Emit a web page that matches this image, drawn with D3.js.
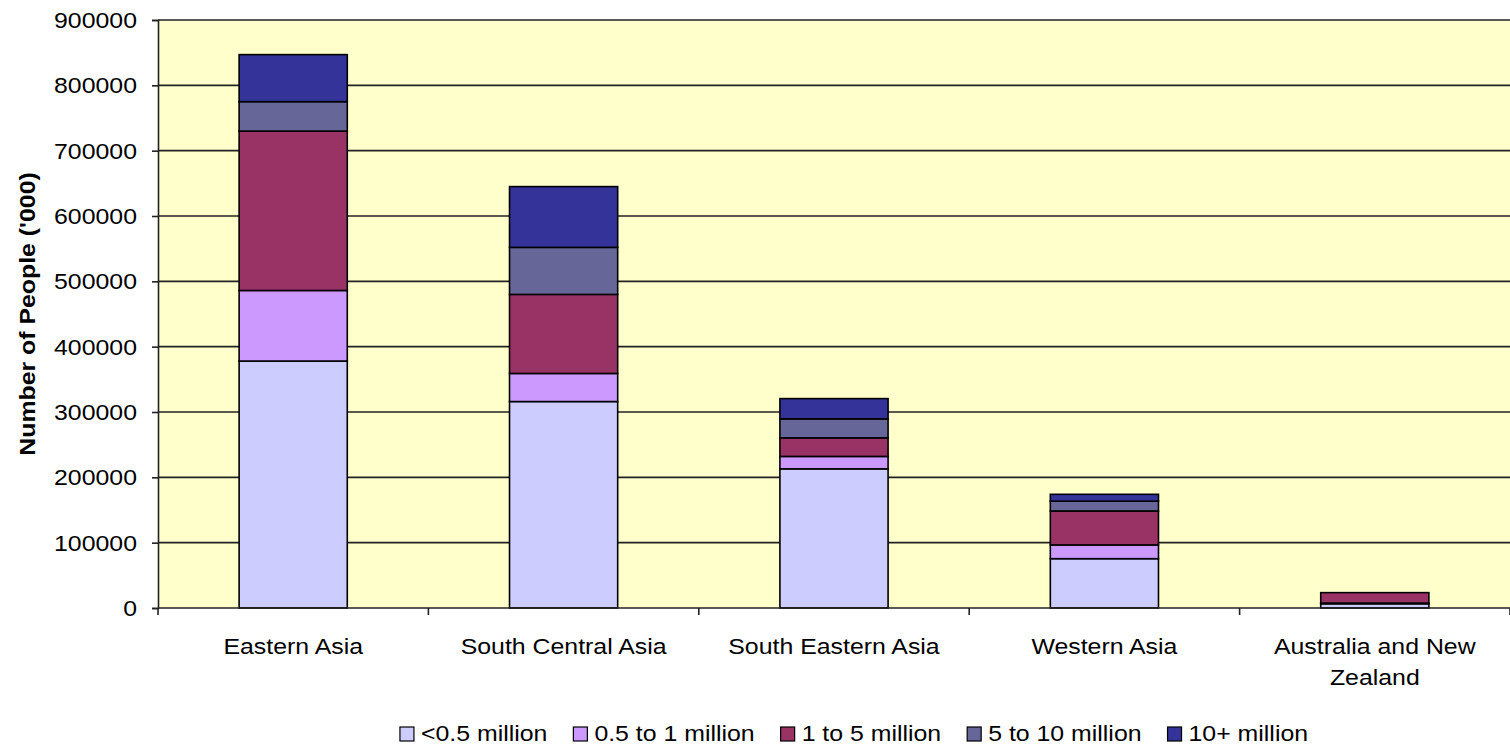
<!DOCTYPE html>
<html>
<head>
<meta charset="utf-8">
<script src="https://cdn.jsdelivr.net/npm/d3@7"></script>
<style>
  html, body { margin: 0; padding: 0; background: #ffffff; }
  svg { display: block; font-family: "Liberation Sans", Arial, sans-serif; }
</style>
</head>
<body>
<svg id="chart" width="1510" height="745"></svg>
<script>
// Population living in settlements of each size class, by region ('000 people)
const regions = ["Eastern Asia", "South Central Asia", "South Eastern Asia", "Western Asia", "Australia and New Zealand"];
const seriesNames = ["<0.5 million", "0.5 to 1 million", "1 to 5 million", "5 to 10 million", "10+ million"];
const under05 = [378000, 316000, 213000, 75500, 6500];
const from05to1 = [108000, 43000, 19000, 21000, 1000];
const from1to5 = [244000, 121000, 28500, 52000, 16000];
const from5to10 = [45000, 72000, 29000, 15000, 0];
const over10 = [72000, 93000, 31000, 10500, 0];
const seriesColors = ["#CCCCFF", "#CC99FF", "#993366", "#666699", "#333399"];
const yTicks = [0, 100000, 200000, 300000, 400000, 500000, 600000, 700000, 800000, 900000];
const yTitle = "Number of People ('000)";

const seriesValues = [under05, from05to1, from1to5, from5to10, over10];
const rows = regions.map((r, i) => {
  const row = { region: r };
  seriesNames.forEach((s, j) => { row[s] = seriesValues[j][i]; });
  return row;
});

const svg = d3.select("#chart");
const plot = { left: 158, right: 1510, top: 20, bottom: 608 };
const FS = 22;       // font size
const SX = 1.13;     // horizontal stretch of the text glyphs

// places a text at (x, y), widened horizontally about its anchor
function placeText(sel, x, y) {
  sel.attr("x", 0).attr("y", 0)
    .attr("transform", `translate(${x},${y}) scale(${SX},1)`);
}

const x = d3.scaleBand()
  .domain(regions)
  .range([plot.left, plot.right])
  .paddingInner(0.6)
  .paddingOuter(0.3);

const y = d3.scaleLinear()
  .domain([0, 900000])
  .range([plot.bottom, plot.top]);

// plot background
svg.append("rect")
  .attr("x", plot.left).attr("y", plot.top)
  .attr("width", plot.right - plot.left).attr("height", plot.bottom - plot.top)
  .attr("fill", "#FFFFCC");

// horizontal gridlines
svg.append("g")
  .selectAll("line")
  .data(yTicks.filter(d => d > 0))
  .join("line")
  .attr("x1", plot.left).attr("x2", plot.right)
  .attr("y1", d => y(d)).attr("y2", d => y(d))
  .attr("stroke", "#222").attr("stroke-width", 1.6);

// stacked bars
const stack = d3.stack().keys(seriesNames);
const layers = stack(rows);
svg.append("g")
  .selectAll("g")
  .data(layers)
  .join("g")
  .attr("fill", (d, i) => seriesColors[i])
  .selectAll("rect")
  .data(d => d.filter(p => p[1] - p[0] > 0))
  .join("rect")
  .attr("x", d => x(d.data.region))
  .attr("width", x.bandwidth())
  .attr("y", d => y(d[1]))
  .attr("height", d => y(d[0]) - y(d[1]))
  .attr("stroke", "#000")
  .attr("stroke-width", 1.6);

// y axis
const yAxis = svg.append("g")
  .attr("transform", `translate(${plot.left},0)`)
  .call(d3.axisLeft(y).tickValues(yTicks).tickFormat(d3.format("d")).tickSize(6).tickPadding(14));
yAxis.select(".domain").attr("stroke", "#222").attr("stroke-width", 1.6);
yAxis.selectAll(".tick line").attr("stroke", "#222").attr("stroke-width", 1.6);
yAxis.selectAll(".tick text")
  .attr("font-size", FS)
  .attr("font-family", "Liberation Sans, Arial, sans-serif")
  .attr("fill", "#000")
  .attr("dy", null)
  .attr("dominant-baseline", "central")
  .each(function () { placeText(d3.select(this), -21, 0); });

// x axis: ticks sit on the category boundaries
const boundaries = d3.range(regions.length + 1).map(i => plot.left + i * x.step());
const xAxisG = svg.append("g");
xAxisG.append("line")
  .attr("x1", plot.left).attr("x2", plot.right)
  .attr("y1", plot.bottom).attr("y2", plot.bottom)
  .attr("stroke", "#222").attr("stroke-width", 1.6);
xAxisG.selectAll("line.tk")
  .data(boundaries)
  .join("line")
  .attr("class", "tk")
  .attr("x1", d => d).attr("x2", d => d)
  .attr("y1", plot.bottom).attr("y2", plot.bottom + 7)
  .attr("stroke", "#222").attr("stroke-width", 1.6);

// category labels, wrapped to the band width
const catLines = {
  "Australia and New Zealand": ["Australia and New", "Zealand"]
};
const catG = svg.append("g");
regions.forEach(r => {
  const lines = catLines[r] || [r];
  lines.forEach((ln, k) => {
    catG.append("text")
      .attr("text-anchor", "middle")
      .attr("font-size", FS)
      .attr("fill", "#000")
      .text(ln)
      .call(placeText, x(r) + x.bandwidth() / 2, 654 + k * 31);
  });
});

// y axis title
svg.append("text")
  .attr("transform", `translate(35,${(plot.top + plot.bottom) / 2}) rotate(-90) scale(${SX},1)`)
  .attr("text-anchor", "middle")
  .attr("font-size", FS)
  .attr("font-weight", "bold")
  .attr("fill", "#000")
  .text(yTitle);

// legend
const legend = svg.append("g");
const items = legend.selectAll("g")
  .data(seriesNames)
  .join("g");
items.append("rect")
  .attr("width", 14).attr("height", 14)
  .attr("y", -14)
  .attr("fill", (d, i) => seriesColors[i])
  .attr("stroke", "#000").attr("stroke-width", 1.2);
items.append("text")
  .attr("font-size", FS)
  .attr("fill", "#000")
  .text(d => d)
  .call(placeText, 21, 0);
let cursor = 0;
const widths = [];
items.each(function () {
  const w = 21 + SX * d3.select(this).select("text").node().getComputedTextLength();
  widths.push(w);
});
const gap = 26;
const total = d3.sum(widths) + gap * (widths.length - 1);
const startX = 854 - total / 2;
items.attr("transform", (d, i) => {
  const tx = startX + cursor;
  cursor += widths[i] + gap;
  return `translate(${tx},741)`;
});
</script>
</body>
</html>
